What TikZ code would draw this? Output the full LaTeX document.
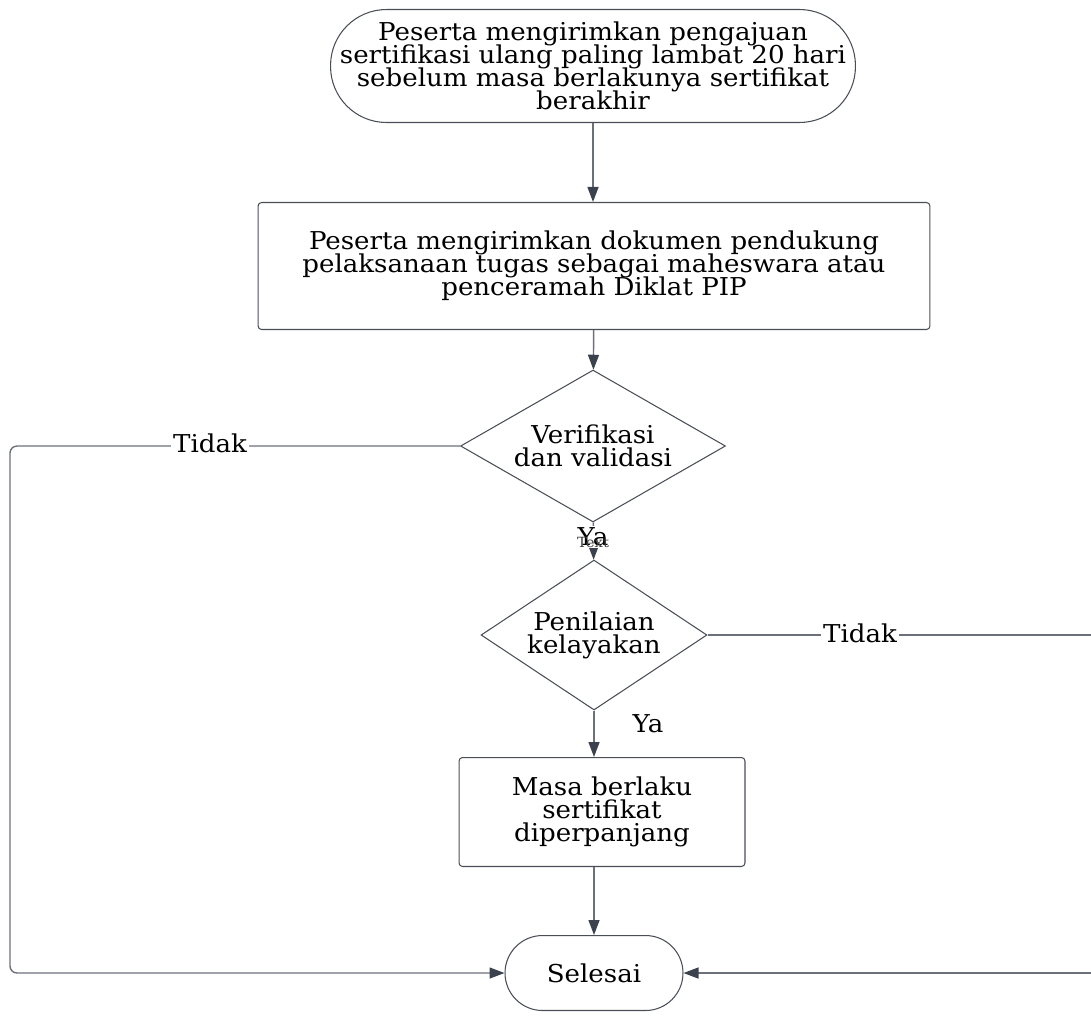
\documentclass[tikz,border=0pt]{standalone}
\usepackage{fontspec}
\setmainfont[FakeStretch=1.06]{DejaVu Serif}
\usepackage{xcolor}
\usetikzlibrary{arrows.meta, positioning, shapes.geometric}

\definecolor{linec}{HTML}{6B7079}
\definecolor{tipc}{HTML}{3B424D}
\definecolor{edgec}{HTML}{4A4F57}
\newcommand{\flowfont}{\fontsize{14}{13}\selectfont\lineskiplimit=-6pt\relax}

\begin{document}
\begin{tikzpicture}[
  x=0.02cm, y=-0.02cm,
  font=\flowfont,
  term/.style={draw=edgec, line width=0.6pt, fill=white, align=center, inner sep=2pt},
  proc/.style={draw=edgec, line width=0.6pt, rounded corners=2pt, fill=white, align=center},
  dec/.style={draw=edgec, line width=0.6pt, diamond, fill=white, align=center, inner sep=0pt},
  arr/.style={-{Triangle[length=3mm, width=2.2mm, color=tipc]}, draw=linec, thick},
  lbl/.style={fill=white, inner sep=1pt}
]
  \useasboundingbox (0,0) rectangle (1091,1022);

  \node[term, rounded corners=1.12cm, minimum width=10.5cm, minimum height=2.26cm] (start) at (593,66)
    {Peserta mengirimkan pengajuan\\sertifikasi ulang paling lambat 20 hari\\sebelum masa berlakunya sertifikat\\berakhir};
  \node[proc, minimum width=13.44cm, minimum height=2.54cm] (dokumen) at (594,266)
    {Peserta mengirimkan dokumen pendukung\\pelaksanaan tugas sebagai maheswara atau\\penceramah Diklat PIP};
  \node[dec, aspect=1.74, minimum width=5.3cm, minimum height=3.04cm] (verif) at (593,446)
    {Verifikasi\\dan validasi};
  \node[dec, aspect=1.5, minimum width=4.52cm, minimum height=3.0cm] (nilai) at (594,635)
    {Penilaian\\kelayakan};
  \node[proc, minimum width=5.72cm, minimum height=2.18cm] (masa) at (602,812)
    {Masa berlaku\\sertifikat\\diperpanjang};
  \node[term, rounded corners=0.75cm, minimum width=3.56cm, minimum height=1.5cm] (selesai) at (594,973)
    {Selesai};

  \coordinate (kiri) at (10,446);
  \coordinate (kanan) at (1092,635);

  \draw[arr] (start.south) -- (start.south |- dokumen.north);
  \draw[arr] (dokumen) -- (verif);
  \draw[arr] (verif) -- (nilai);
  \node[lbl] (ya1) at (593,537) {Ya};
  \node[font=\fontsize{8}{8}\selectfont, text=black!75, inner sep=0pt] (teks) at (593,542) {Text};
  \draw[arr, rounded corners=4pt] (verif.west) -- (kiri) -- (kiri |- selesai) -- (selesai.west);
  \node[lbl] (tidak1) at (210,443) {Tidak};
  \draw[arr] (nilai.east) -- (kanan) -- (kanan |- selesai) -- (selesai.east);
  \node[lbl] (tidak2) at (860,633) {Tidak};
  \draw[arr] (nilai) -- (nilai |- masa.north);
  \node (ya2) at (648,724) {Ya};
  \draw[arr] (selesai.north |- masa.south) -- (selesai);
\end{tikzpicture}
\end{document}
